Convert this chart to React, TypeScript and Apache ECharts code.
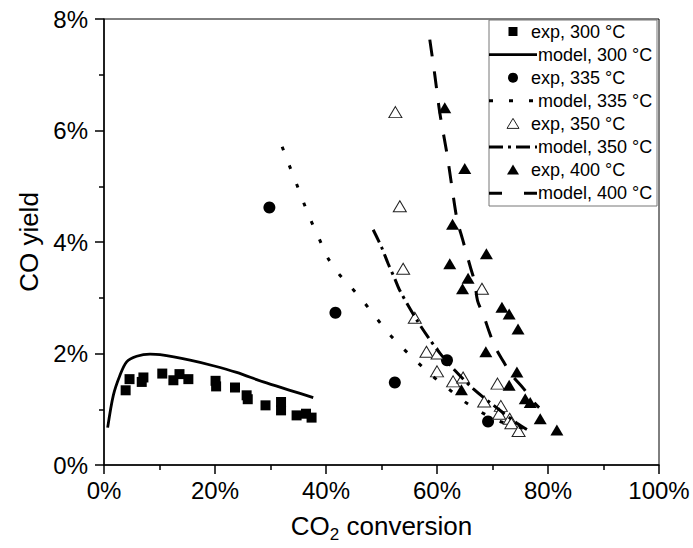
import React, { useEffect, useRef } from "react";
import * as echarts from "echarts";

// CO2 conversion (%) and CO yield (%)
const exp300X = [3.9, 4.6, 6.8, 7.1, 10.5, 12.5, 13.6, 15.2, 20.1, 20.2, 23.6, 25.7, 25.9, 29.1, 31.9, 31.9, 34.7, 36.4, 37.4];
const exp300Y = [1.34, 1.54, 1.49, 1.57, 1.64, 1.52, 1.63, 1.54, 1.51, 1.41, 1.39, 1.25, 1.18, 1.07, 1.13, 0.98, 0.89, 0.92, 0.85];

const model300X = [0.66, 1.68, 2.88, 4.08, 5.89, 8.29, 10.1, 15.5, 19.7, 23.9, 28.7, 33.5, 37.7];
const model300Y = [0.67, 1.25, 1.61, 1.85, 1.95, 1.99, 1.98, 1.88, 1.78, 1.66, 1.49, 1.34, 1.21];

const exp335X = [29.8, 41.7, 52.4, 61.8, 69.2];
const exp335Y = [4.62, 2.73, 1.48, 1.88, 0.78];

const model335X = [32.1, 33.4, 34.7, 36.0, 37.3, 38.8, 40.3, 42.3, 44.6, 47.0, 49.2, 51.4, 53.9, 56.4, 59.0, 62.0, 64.9, 67.9, 71.1, 76.1, 77.7];
const model335Y = [5.71, 5.37, 5.04, 4.70, 4.38, 4.05, 3.72, 3.43, 3.18, 2.90, 2.62, 2.35, 2.09, 1.85, 1.61, 1.37, 1.14, 0.95, 0.79, 0.64, 0.58];

const exp350X = [52.5, 53.3, 53.9, 56.0, 58.1, 60.1, 60.0, 62.9, 64.7, 68.1, 70.9, 68.5, 71.5, 71.2, 73.1, 73.4, 74.7];
const exp350Y = [6.33, 4.64, 3.52, 2.64, 2.03, 2.0, 1.68, 1.50, 1.57, 3.16, 1.46, 1.14, 1.06, 0.92, 0.83, 0.75, 0.61];

const model350X = [48.5, 50.0, 51.2, 52.4, 53.3, 56.3, 58.7, 60.8, 63.2, 66.5, 70.2, 74.4, 76.5];
const model350Y = [4.22, 3.91, 3.61, 3.34, 3.13, 2.61, 2.25, 1.97, 1.70, 1.37, 1.07, 0.75, 0.62];

const exp400X = [61.4, 65.0, 62.8, 68.9, 62.3, 65.6, 64.6, 71.7, 73.0, 74.6, 68.8, 74.4, 73.0, 75.9, 76.8, 64.4, 78.6, 81.6];
const exp400Y = [6.41, 5.32, 4.32, 3.79, 3.61, 3.35, 3.16, 2.83, 2.71, 2.44, 2.03, 1.67, 1.43, 1.19, 1.12, 1.35, 0.83, 0.63];

const model400X = [58.7, 59.6, 60.5, 61.8, 62.7, 63.6, 64.6, 66.1, 66.8, 67.3, 68.4, 69.4, 70.4, 72.0, 73.5, 75.6, 77.4, 78.4];
const model400Y = [7.63, 7.0, 6.32, 5.58, 4.98, 4.41, 4.05, 3.52, 3.28, 2.95, 2.68, 2.39, 2.13, 1.85, 1.61, 1.37, 1.13, 1.03];

const seriesNames = [
  "exp, 300 °C",
  "model, 300 °C",
  "exp, 335 °C",
  "model, 335 °C",
  "exp, 350 °C",
  "model, 350 °C",
  "exp, 400 °C",
  "model, 400 °C",
];

const xTicks = [0, 20, 40, 60, 80, 100];
const yTicks = [0, 2, 4, 6, 8];

const zip = (xs: number[], ys: number[]) => xs.map((x, i) => [x, ys[i]]);

const FONT = "'Liberation Sans', Arial, Helvetica, sans-serif";

const DOT = [4, 16];
const DASHDOT = [14, 5, 3, 5];
const DASH = [17, 15];

export default function App() {
  const ref = useRef<HTMLDivElement>(null);
  useEffect(() => {
    if (!ref.current) return;
    const chart = echarts.init(ref.current, undefined, { renderer: "svg" });
    const axisCommon = {
      type: "value" as const,
      axisLine: { show: true, lineStyle: { color: "#000", width: 1.5 } },
      axisTick: { show: true, inside: false, length: 9, lineStyle: { color: "#000", width: 1.5 } },
      minorTick: { show: true, splitNumber: 2, length: 5, lineStyle: { color: "#000", width: 1.5 } },
      splitLine: { show: false },
      minorSplitLine: { show: false },
    };
    const scatter = (name: string, xs: number[], ys: number[], symbol: string, size: any, style: any) => ({
      name,
      type: "scatter",
      data: zip(xs, ys),
      symbol,
      symbolSize: size,
      itemStyle: { opacity: 1, ...style },
      z: 3,
    });
    const line = (name: string, xs: number[], ys: number[], width: number, type: any) => ({
      name,
      type: "line",
      data: zip(xs, ys),
      symbol: "none",
      smooth: 0.3,
      lineStyle: { color: "#000", width, type, cap: "butt" },
      itemStyle: { color: "#000" },
      z: 4,
    });

    // Hand-drawn legend (decoration)
    const LX = 489;
    const LY = 20;
    const LW = 168;
    const LH = 186;
    const rowY = (i: number) => LY + 11.5 + i * 23.1;
    const mx = 513;
    const legendEls: any[] = [
      {
        type: "rect",
        shape: { x: LX, y: LY, width: LW, height: LH },
        style: { fill: "#fff", stroke: "#777", lineWidth: 1 },
        z: 10,
      },
    ];
    const addText = (i: number, x: number) =>
      legendEls.push({
        type: "text",
        z: 11,
        style: {
          text: seriesNames[i],
          x,
          y: rowY(i),
          fill: "#000",
          fontSize: 18,
          fontFamily: FONT,
          verticalAlign: "middle",
          align: "left",
        },
      });
    const addLine = (i: number, dash: any, width: number) =>
      legendEls.push({
        type: "line",
        z: 11,
        shape: { x1: LX, y1: rowY(i), x2: 537, y2: rowY(i) },
        style: { stroke: "#000", lineWidth: width, lineDash: dash, lineCap: "butt" },
      });
    // exp 300: square
    legendEls.push({
      type: "rect",
      z: 11,
      shape: { x: mx - 4.5, y: rowY(0) - 4.5, width: 9, height: 9 },
      style: { fill: "#000" },
    });
    addText(0, 531);
    addLine(1, null, 2.8);
    addText(1, 538);
    legendEls.push({
      type: "circle",
      z: 11,
      shape: { cx: mx, cy: rowY(2), r: 5 },
      style: { fill: "#000" },
    });
    addText(2, 531);
    addLine(3, DOT, 3);
    addText(3, 538);
    legendEls.push({
      type: "polygon",
      z: 11,
      shape: { points: [[mx, rowY(4) - 5.5], [mx + 6, rowY(4) + 4.5], [mx - 6, rowY(4) + 4.5]] },
      style: { fill: "#fff", stroke: "#222", lineWidth: 1 },
    });
    addText(4, 531);
    addLine(5, DASHDOT, 3);
    addText(5, 538);
    legendEls.push({
      type: "polygon",
      z: 11,
      shape: { points: [[mx, rowY(6) - 5.5], [mx + 6, rowY(6) + 4.5], [mx - 6, rowY(6) + 4.5]] },
      style: { fill: "#000" },
    });
    addText(6, 531);
    addLine(7, [13, 22, 13], 3);
    addText(7, 538);

    chart.setOption({
      animation: false,
      backgroundColor: "#fff",
      textStyle: { fontFamily: FONT, color: "#000" },
      grid: {
        left: 104,
        right: 34,
        top: 19,
        bottom: 81,
        show: true,
        borderColor: "#000",
        borderWidth: 1,
        backgroundColor: "transparent",
      },
      graphic: legendEls,
      xAxis: {
        ...axisCommon,
        min: 0,
        max: 100,
        interval: 20,
        axisLabel: {
          margin: 13,
          fontSize: 24,
          fontFamily: FONT,
          color: "#000",
          formatter: (v: number) => (xTicks.includes(v) ? `${v}%` : ""),
        },
        name: "{a|CO}{b|2}{a| conversion}",
        nameLocation: "middle",
        nameGap: 44,
        nameTextStyle: {
          rich: {
            a: { fontSize: 26, fontFamily: FONT, color: "#000", lineHeight: 34 },
            b: { fontSize: 17, fontFamily: FONT, color: "#000", lineHeight: 19, verticalAlign: "bottom" },
          },
        },
      },
      yAxis: {
        ...axisCommon,
        min: 0,
        max: 8,
        interval: 2,
        axisLabel: {
          margin: 16,
          fontSize: 24,
          fontFamily: FONT,
          color: "#000",
          formatter: (v: number) => (yTicks.includes(v) ? `${v}%` : ""),
        },
        name: "CO yield",
        nameLocation: "middle",
        nameRotate: 90,
        nameGap: 60,
        nameTextStyle: { fontSize: 26, fontFamily: FONT, color: "#000" },
      },
      series: [
        scatter(seriesNames[0], exp300X, exp300Y, "rect", 10, { color: "#000" }),
        line(seriesNames[1], model300X, model300Y, 2.8, "solid"),
        scatter(seriesNames[2], exp335X, exp335Y, "circle", 12, { color: "#000" }),
        line(seriesNames[3], model335X, model335Y, 3, DOT),
        scatter(seriesNames[4], exp350X, exp350Y, "triangle", [13, 11], {
          color: "#fff",
          borderColor: "#222",
          borderWidth: 1,
        }),
        line(seriesNames[5], model350X, model350Y, 3, DASHDOT),
        scatter(seriesNames[6], exp400X, exp400Y, "triangle", [13, 11], { color: "#000" }),
        line(seriesNames[7], model400X, model400Y, 3, DASH),
      ],
    });
    return () => chart.dispose();
  }, []);
  return (
    <div
      ref={ref}
      style={{ position: "fixed", left: 0, top: 0, width: 693, height: 548, background: "#fff" }}
    />
  );
}
